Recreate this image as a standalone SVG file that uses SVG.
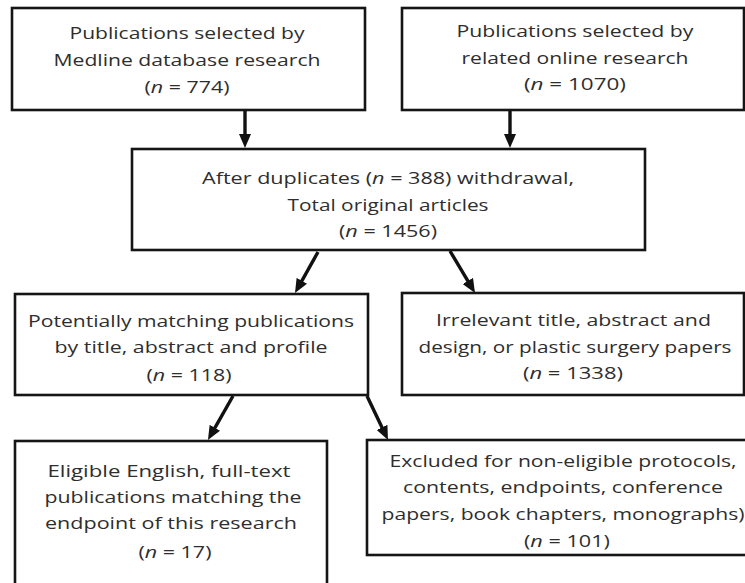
<svg xmlns="http://www.w3.org/2000/svg" width="745" height="583" viewBox="0 0 745 583">
<style>
.box{fill:#fff;stroke:#151515;stroke-width:2.6}
.t{font-family:"Open Sans","Noto Sans","Liberation Sans",sans-serif;font-size:17px;fill:#2e2e2e;text-anchor:middle}
.i{font-style:italic}
.c{stroke:#111;stroke-width:3.4;fill:none}
</style>
<defs>
<marker id="ah" viewBox="0 0 14 12" refX="4" refY="6" markerUnits="userSpaceOnUse" markerWidth="14" markerHeight="12" orient="auto">
<path d="M0,0 L14,6 L0,12 z" fill="#111"/>
</marker>
</defs>
<rect width="745" height="583" fill="#fff"/>
<g id="connectors">
<line class="c" x1="245" y1="110" x2="245" y2="138" marker-end="url(#ah)"/>
<line class="c" x1="510" y1="110" x2="510" y2="138" marker-end="url(#ah)"/>
<line class="c" x1="318" y1="252" x2="299.9" y2="284.3" marker-end="url(#ah)"/>
<line class="c" x1="450" y1="251" x2="469.9" y2="284.4" marker-end="url(#ah)"/>
<line class="c" x1="233" y1="396" x2="212.9" y2="431.3" marker-end="url(#ah)"/>
<line class="c" x1="367" y1="396" x2="383.7" y2="431" marker-end="url(#ah)"/>
</g>
<g id="medline">
<rect class="box" x="12" y="8" width="353" height="102"/>
<text class="t" x="187" y="39" textLength="235" lengthAdjust="spacingAndGlyphs">Publications selected by</text>
<text class="t" x="187" y="66" textLength="267" lengthAdjust="spacingAndGlyphs">Medline database research</text>
<text class="t" x="187" y="93" textLength="85" lengthAdjust="spacingAndGlyphs">(<tspan class="i">n</tspan> = 774)</text>
</g>
<g id="online">
<rect class="box" x="402" y="8" width="342" height="102"/>
<text class="t" x="575" y="37" textLength="237" lengthAdjust="spacingAndGlyphs">Publications selected by</text>
<text class="t" x="575" y="64" textLength="227" lengthAdjust="spacingAndGlyphs">related online research</text>
<text class="t" x="575" y="90" textLength="102" lengthAdjust="spacingAndGlyphs">(<tspan class="i">n</tspan> = 1070)</text>
</g>
<g id="total">
<rect class="box" x="132" y="149" width="513" height="101"/>
<text class="t" x="388" y="184" textLength="372" lengthAdjust="spacingAndGlyphs">After duplicates (<tspan class="i">n</tspan> = 388) withdrawal,</text>
<text class="t" x="388" y="211" textLength="201" lengthAdjust="spacingAndGlyphs">Total original articles</text>
<text class="t" x="388" y="237" textLength="98" lengthAdjust="spacingAndGlyphs">(<tspan class="i">n</tspan> = 1456)</text>
</g>
<g id="potential">
<rect class="box" x="15" y="294" width="353" height="101"/>
<text class="t" x="191" y="327" textLength="326" lengthAdjust="spacingAndGlyphs">Potentially matching publications</text>
<text class="t" x="191" y="353" textLength="273" lengthAdjust="spacingAndGlyphs">by title, abstract and profile</text>
<text class="t" x="189" y="381" textLength="85" lengthAdjust="spacingAndGlyphs">(<tspan class="i">n</tspan> = 118)</text>
</g>
<g id="irrelevant">
<rect class="box" x="402" y="293" width="342" height="102"/>
<text class="t" x="573.5" y="326" textLength="275" lengthAdjust="spacingAndGlyphs">Irrelevant title, abstract and</text>
<text class="t" x="575" y="353" textLength="313" lengthAdjust="spacingAndGlyphs">design, or plastic surgery papers</text>
<text class="t" x="573" y="379" textLength="100" lengthAdjust="spacingAndGlyphs">(<tspan class="i">n</tspan> = 1338)</text>
</g>
<g id="eligible">
<rect class="box" x="15" y="441" width="312" height="160"/>
<text class="t" x="169" y="477" textLength="243" lengthAdjust="spacingAndGlyphs">Eligible English, full-text</text>
<text class="t" x="173" y="503" textLength="257" lengthAdjust="spacingAndGlyphs">publications matching the</text>
<text class="t" x="171" y="529" textLength="252" lengthAdjust="spacingAndGlyphs">endpoint of this research</text>
<text class="t" x="175" y="558" textLength="73" lengthAdjust="spacingAndGlyphs">(<tspan class="i">n</tspan> = 17)</text>
</g>
<g id="excluded">
<rect class="box" x="367" y="440" width="400" height="115"/>
<text class="t" x="563" y="467" textLength="347" lengthAdjust="spacingAndGlyphs">Excluded for non-eligible protocols,</text>
<text class="t" x="563" y="493" textLength="320" lengthAdjust="spacingAndGlyphs">contents, endpoints, conference</text>
<text class="t" x="563" y="520" textLength="363" lengthAdjust="spacingAndGlyphs">papers, book chapters, monographs)</text>
<text class="t" x="567" y="547" textLength="86" lengthAdjust="spacingAndGlyphs">(<tspan class="i">n</tspan> = 101)</text>
</g>
</svg>
